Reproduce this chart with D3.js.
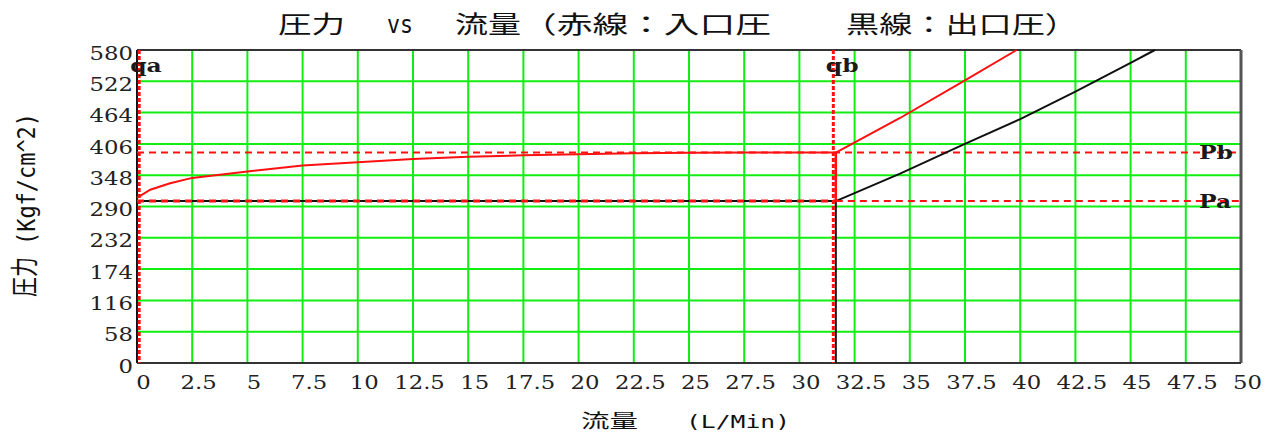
<!DOCTYPE html>
<html><head><meta charset="utf-8">
<script src="https://cdn.jsdelivr.net/npm/d3@7"></script>
<style>body{margin:0;background:#fff}svg{display:block}</style>
</head><body>
<svg id="chart" width="1266" height="435"></svg>
<script>
// Axis ticks
const xTicks = [0, 2.5, 5, 7.5, 10, 12.5, 15, 17.5, 20, 22.5, 25, 27.5, 30, 32.5, 35, 37.5, 40, 42.5, 45, 47.5, 50];
const yTicks = [0, 58, 116, 174, 232, 290, 348, 406, 464, 522, 580];

// Flow markers and pressure levels
const qa = 0.1, qb = 31.65;
const pa = 300, pb = 390;

// Inlet pressure (red) below qb
const inletFlow = [0, 0.6, 1.5, 2.5, 5, 7.5, 10, 12.5, 15, 17.5, 20, 22.5, 25, 27.5, 30, 31.65];
const inletPressure = [306, 321, 333, 343, 355, 366, 372, 378, 382, 385, 387, 388.5, 389.5, 390, 390, 390];
// Inlet pressure (red) above qb
const inletHighFlow = [31.65, 34.56, 37.42, 39.84];
const inletHighPressure = [390, 454, 522, 580];
// Outlet pressure (black) above qb
const outletHighFlow = [31.65, 34.56, 37.42, 40, 42.5, 45, 46.1];
const outletHighPressure = [300, 351, 404.5, 452, 503, 556, 580];

const svg = d3.select("#chart");
const x = d3.scaleLinear().domain([0, 50]).range([137, 1241]);
const y = d3.scaleLinear().domain([0, 580]).range([363, 50]);
const GREEN = "#12ee12", RED = "#ff1010";
const serif = "'DejaVu Serif', serif";
const mono = "'DejaVu Sans Mono', monospace";
const cjk = "'Noto Sans CJK JP', sans-serif";

// grid
const grid = svg.append("g");
grid.selectAll("line.v").data(xTicks.filter(d => d > 0 && d < 50)).join("line")
  .attr("x1", d => x(d)).attr("x2", d => x(d)).attr("y1", y(580)).attr("y2", y(0))
  .attr("stroke", GREEN).attr("stroke-width", 2);
grid.selectAll("line.h").data(yTicks.filter(d => d > 0 && d < 580)).join("line")
  .attr("x1", x(0)).attr("x2", x(50)).attr("y1", d => y(d)).attr("y2", d => y(d))
  .attr("stroke", GREEN).attr("stroke-width", 2);

// frame
svg.append("line").attr("x1", x(0)).attr("x2", x(50)).attr("y1", y(580)).attr("y2", y(580)).attr("stroke", "#333").attr("stroke-width", 2);
svg.append("line").attr("x1", x(50)).attr("x2", x(50)).attr("y1", y(580)).attr("y2", y(0)).attr("stroke", "#555").attr("stroke-width", 3);
svg.append("line").attr("x1", x(0)).attr("x2", x(50)).attr("y1", y(0)).attr("y2", y(0)).attr("stroke", "#333").attr("stroke-width", 2);
svg.append("line").attr("x1", x(0)).attr("x2", x(0)).attr("y1", y(580)).attr("y2", y(0)).attr("stroke", "#111").attr("stroke-width", 2);

// axes labels
const xAxis = svg.append("g").attr("transform", `translate(0,${y(0)})`)
  .call(d3.axisBottom(x).tickValues(xTicks).tickSize(0).tickFormat(d3.format("")));
xAxis.select(".domain").remove();
xAxis.selectAll("text").attr("y", 26.5).attr("dy", 0)
  .attr("transform", "translate(6,0) scale(1.2,1)")
  .attr("font-family", serif).attr("font-size", 19).attr("fill", "#222");

const yAxis = svg.append("g").attr("transform", `translate(${x(0)},0)`)
  .call(d3.axisLeft(y).tickValues(yTicks).tickSize(0).tickFormat(d3.format("")));
yAxis.select(".domain").remove();
yAxis.selectAll("text").attr("x", -3.3).attr("y", 2.5).attr("dy", "0.35em")
  .attr("transform", "scale(1.2,1)")
  .attr("font-family", serif).attr("font-size", 19).attr("fill", "#222");

// reference pressure lines
svg.append("line").attr("x1", x(0)).attr("x2", x(50)).attr("y1", y(pb)).attr("y2", y(pb))
  .attr("stroke", RED).attr("stroke-width", 2).attr("stroke-dasharray", "7,5");

// outlet pressure (black)
const line = d3.line().x(d => x(d[0])).y(d => y(d[1]));
svg.append("path").datum([[0, pa], [qb, pa], [qb, 0]]).attr("d", line)
  .attr("fill", "none").attr("stroke", "#111").attr("stroke-width", 2);
svg.append("path").datum(outletHighFlow.map((f, i) => [f, outletHighPressure[i]])).attr("d", line)
  .attr("fill", "none").attr("stroke", "#111").attr("stroke-width", 2);

// Pa line over outlet line
svg.append("line").attr("x1", x(0)).attr("x2", x(qb)).attr("y1", y(pa)).attr("y2", y(pa))
  .attr("stroke", RED).attr("stroke-width", 3).attr("stroke-dasharray", "7,5");
svg.append("line").attr("x1", x(qb)).attr("x2", x(50)).attr("y1", y(pa)).attr("y2", y(pa))
  .attr("stroke", RED).attr("stroke-width", 2).attr("stroke-dasharray", "7,5");

// inlet pressure (red)
svg.append("path").datum(inletFlow.map((f, i) => [f, inletPressure[i]])).attr("d", line)
  .attr("fill", "none").attr("stroke", RED).attr("stroke-width", 2);
svg.append("path").datum([[qb, pb], [qb, pa]]).attr("d", line)
  .attr("fill", "none").attr("stroke", RED).attr("stroke-width", 2.5);
svg.append("path").datum(inletHighFlow.map((f, i) => [f, inletHighPressure[i]])).attr("d", line)
  .attr("fill", "none").attr("stroke", RED).attr("stroke-width", 2);

// flow markers
svg.append("line").attr("x1", x(qa)).attr("x2", x(qa)).attr("y1", y(580)).attr("y2", y(0))
  .attr("stroke", RED).attr("stroke-width", 3).attr("stroke-dasharray", "4,2");
svg.append("line").attr("x1", x(qb)).attr("x2", x(qb)).attr("y1", y(580)).attr("y2", y(0))
  .attr("transform", "translate(-2.5,0)")
  .attr("stroke", RED).attr("stroke-width", 3).attr("stroke-dasharray", "4,2");

// marker labels
function tag(text, px, py) {
  svg.append("text").attr("transform", `translate(${px},${py}) scale(1.3,1)`)
    .attr("font-family", serif).attr("font-size", 18).attr("font-weight", "bold")
    .attr("fill", "#1a1a1a").text(text);
}
tag("qa", x(qa) - 9, 72);
tag("qb", x(qb) - 10, 72);
tag("Pb", 1199, y(pb) + 6.5);
tag("Pa", 1199, y(pa) + 6.5);

// title
function piece(text, x0, width, base, size, family) {
  svg.append("text").attr("x", x0).attr("y", base)
    .attr("font-family", family).attr("font-size", size).attr("fill", "#111")
    .attr("textLength", width).attr("lengthAdjust", "spacingAndGlyphs").text(text);
}
piece("圧力", 278, 67, 33, 24, cjk);
piece("vs", 387, 26, 33, 25, mono);
piece("流量", 455, 66, 33, 24, cjk);
piece("（赤線：入口圧", 521, 250, 33, 24, cjk);
piece("黒線：出口圧）", 846, 232, 33, 24, cjk);

// x axis title
piece("流量", 581, 57, 428, 19, cjk);
piece("(L/Min)", 686, 104, 428, 18, mono);

// y axis title
function vpiece(text, bx, startY, width, size, family) {
  svg.append("text").attr("transform", `translate(${bx},${startY}) scale(1.4,1) rotate(-90)`)
    .attr("font-family", family).attr("font-size", size).attr("fill", "#111")
    .attr("textLength", width).attr("lengthAdjust", "spacingAndGlyphs").text(text);
}
vpiece("圧力", 35, 297, 40, 20, cjk);
vpiece("(Kgf/cm^2)", 35, 245, 132, 18, mono);
</script>
</body></html>
